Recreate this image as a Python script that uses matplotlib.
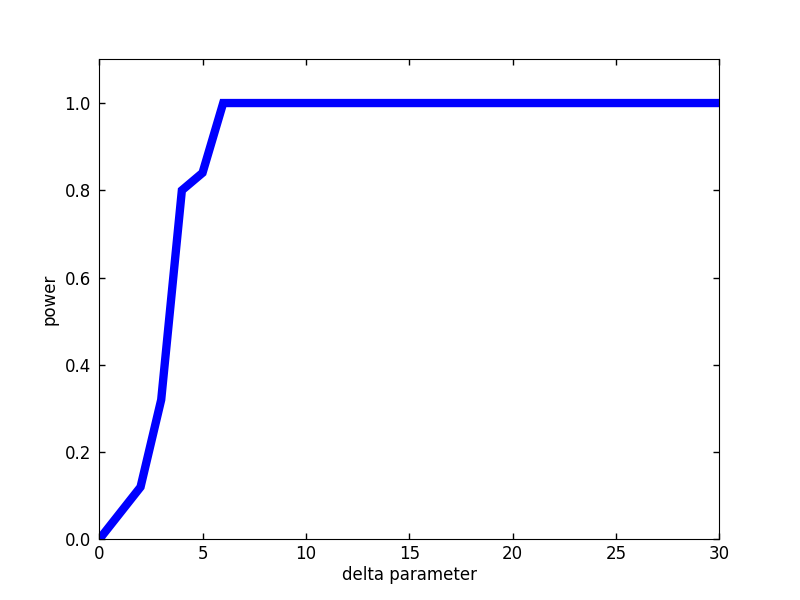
import matplotlib
matplotlib.use("Agg")
import matplotlib.pyplot as plt

# delta parameter vs. estimated power
delta = [0, 1, 2, 3, 4, 5, 6, 7, 8, 9, 10, 11, 12, 13, 14, 15,
         16, 17, 18, 19, 20, 21, 22, 23, 24, 25, 26, 27, 28, 29, 30]
power = [0.0, 0.06, 0.12, 0.32, 0.80, 0.84, 1.0, 1.0, 1.0, 1.0, 1.0, 1.0,
         1.0, 1.0, 1.0, 1.0, 1.0, 1.0, 1.0, 1.0, 1.0, 1.0, 1.0, 1.0,
         1.0, 1.0, 1.0, 1.0, 1.0, 1.0, 1.0]

plt.rcParams['font.size'] = 12
fig = plt.figure(figsize=(8, 6), dpi=100)
fig.subplots_adjust(left=0.124, right=0.899, bottom=0.101, top=0.901)
ax = fig.add_subplot(111)

ax.plot(delta, power, color='#0000ff', linewidth=6, solid_joinstyle='miter')
ax.set_xlim(0, 30)
ax.set_ylim(0, 1.1)
ax.set_xticks([0, 5, 10, 15, 20, 25, 30])
ax.set_yticks([0.0, 0.2, 0.4, 0.6, 0.8, 1.0])
ax.yaxis.set_major_formatter(matplotlib.ticker.FormatStrFormatter('%.1f'))
ax.tick_params(direction='in', top=True, right=True, length=4, width=1)
ax.tick_params(axis='x', pad=4)
ax.tick_params(axis='y', pad=6)
ax.set_xlabel('delta parameter', labelpad=2)
ax.set_ylabel('power')

fig.savefig('out.png', dpi=100)
